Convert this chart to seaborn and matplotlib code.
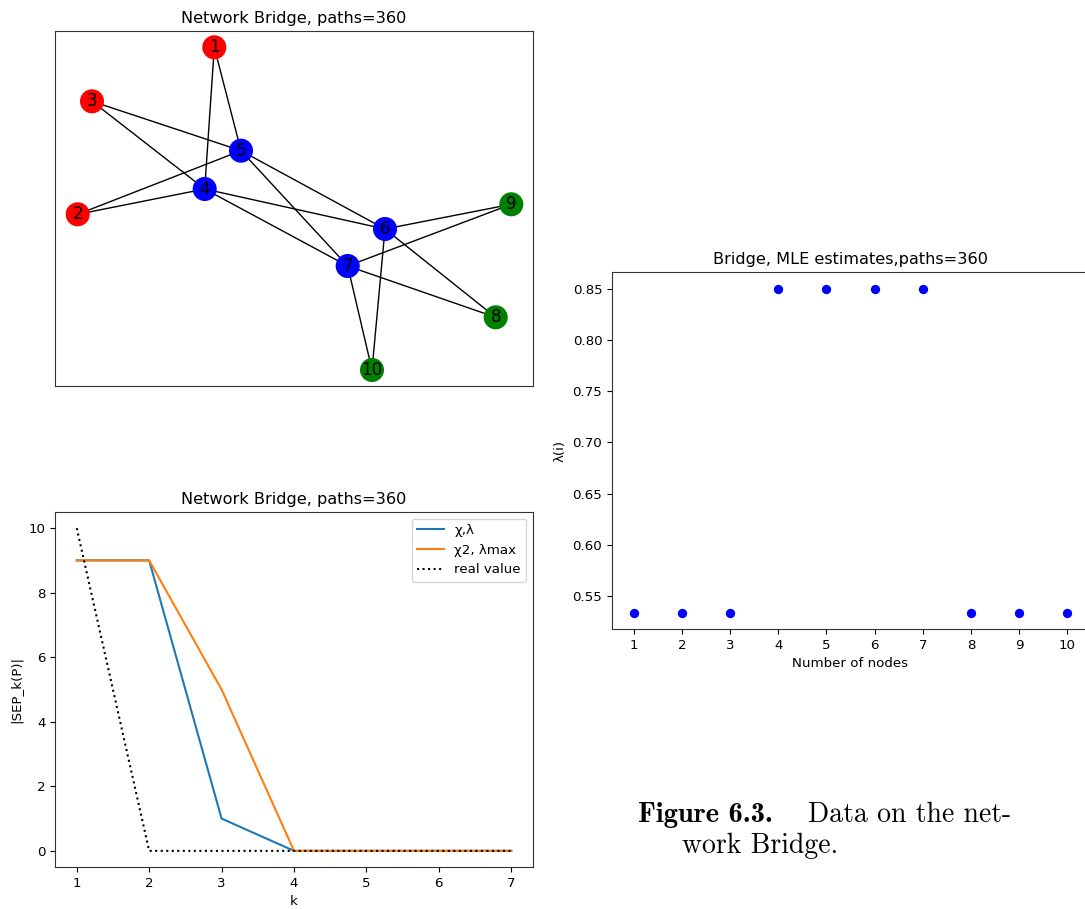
import matplotlib
matplotlib.use("Agg")
import matplotlib.pyplot as plt
import seaborn as sns
import pandas as pd
import numpy as np

# ---------------- data ----------------
# network layout (positions in layout units, y grows downward)
node_ids = [1, 2, 3, 4, 5, 6, 7, 8, 9, 10]
node_x = [214.3, 77.7, 92.0, 204.7, 241.0, 385.0, 347.7, 495.7, 511.3, 372.0]
node_y = [47.3, 214.3, 101.3, 189.0, 150.7, 229.0, 266.0, 317.3, 204.3, 370.0]
node_colors = ["red", "red", "red", "blue", "blue", "blue", "blue", "green", "green", "green"]
edges = [(1, 5), (1, 4), (3, 5), (3, 4), (2, 5), (2, 4), (5, 6), (5, 7),
         (4, 6), (4, 7), (6, 9), (7, 9), (6, 8), (7, 8), (7, 10), (6, 10)]

k_values = [1, 2, 3, 4, 5, 6, 7]
sep_chi_lambda = [9, 9, 1, 0, 0, 0, 0]
sep_chi2_lmax = [9, 9, 5, 0, 0, 0, 0]
sep_real = [10, 0, 0, 0, 0, 0, 0]

mle_nodes = [1, 2, 3, 4, 5, 6, 7, 8, 9, 10]
mle_lambda = [0.5333, 0.5333, 0.5333, 0.85, 0.85, 0.85, 0.85, 0.5333, 0.5333, 0.5333]

title_net = "Network Bridge, paths=360"
title_mle = "Bridge, MLE estimates,paths=360"

base = 9.65
plt.rcParams.update({
    "font.size": base,
    "axes.titlesize": base * 1.2,
    "axes.labelsize": base,
    "xtick.labelsize": base,
    "ytick.labelsize": base,
    "legend.fontsize": base,
    "axes.edgecolor": "#333333",
})

# ---------------- figure ----------------
W, H = 1085, 909
fig = plt.figure(figsize=(W / 100, H / 100), dpi=100)

def box(l, t, r, b):
    return [l / W, (H - b) / H, (r - l) / W, (b - t) / H]

# --- network ---
ax1 = fig.add_axes(box(55, 31, 533, 386))
pos = {n: (x, y) for n, x, y in zip(node_ids, node_x, node_y)}
for a, b in edges:
    ax1.plot([pos[a][0], pos[b][0]], [pos[a][1], pos[b][1]], color="black", lw=1.0, zorder=1)
nodes_df = pd.DataFrame({"x": node_x, "y": node_y, "c": node_colors, "id": node_ids})
sns.scatterplot(data=nodes_df, x="x", y="y", hue="c",
                palette={"red": "red", "blue": "blue", "green": "green"},
                s=300, linewidth=0, legend=False, ax=ax1, zorder=2)
for n, x, y in zip(node_ids, node_x, node_y):
    ax1.text(x, y, str(n), ha="center", va="center", fontsize=12, color="black", zorder=3)
ax1.set_xlim(55, 533)
ax1.set_ylim(386, 31)
ax1.set_xticks([])
ax1.set_yticks([])
ax1.set_xlabel("")
ax1.set_ylabel("")
ax1.set_title(title_net)

# --- SEP line chart ---
ax2 = fig.add_axes(box(55, 512, 533, 867))
sns.lineplot(x=k_values, y=sep_chi_lambda, ax=ax2, color="#1f77b4", label="χ,λ", lw=1.5)
sns.lineplot(x=k_values, y=sep_chi2_lmax, ax=ax2, color="#ff7f0e", label="χ2, λmax", lw=1.5)
sns.lineplot(x=k_values, y=sep_real, ax=ax2, color="black", label="real value", lw=1.5,
             linestyle=":")
ax2.lines[2].set_linestyle(":")
ax2.set_xlim(0.7, 7.3)
ax2.set_ylim(-0.5, 10.5)
ax2.set_xticks(k_values)
ax2.set_yticks([0, 2, 4, 6, 8, 10])
ax2.set_xlabel("k")
ax2.set_ylabel("|SEP_k(P)|")
ax2.set_title(title_net)
leg = ax2.legend(loc="upper right")
leg.get_lines()[2].set_linestyle(":")

# --- MLE scatter ---
ax3 = fig.add_axes(box(612, 272, 1089, 629))
sns.scatterplot(x=mle_nodes, y=mle_lambda, ax=ax3, color="blue", s=45, linewidth=0)
ax3.set_xlim(0.55, 10.45)
ax3.set_ylim(0.5175, 0.8667)
ax3.set_xticks(mle_nodes)
ax3.set_yticks([0.55, 0.60, 0.65, 0.70, 0.75, 0.80, 0.85])
ax3.set_yticklabels(["0.55", "0.60", "0.65", "0.70", "0.75", "0.80", "0.85"])
ax3.set_xlabel("Number of nodes")
ax3.set_ylabel("λ(i)")
ax3.set_title(title_mle)

# --- caption ---
fig.text(638 / W, 1 - 822 / H, "Figure 6.3.", fontfamily="cmb10", fontsize=20.5,
         ha="left", va="baseline")
fig.text(808 / W, 1 - 822 / H, "Data on the net-", fontfamily="cmr10", fontsize=20,
         ha="left", va="baseline")
fig.text(682 / W, 1 - 853 / H, "work Bridge.", fontfamily="cmr10", fontsize=20,
         ha="left", va="baseline")

fig.savefig("out.png", dpi=100)
